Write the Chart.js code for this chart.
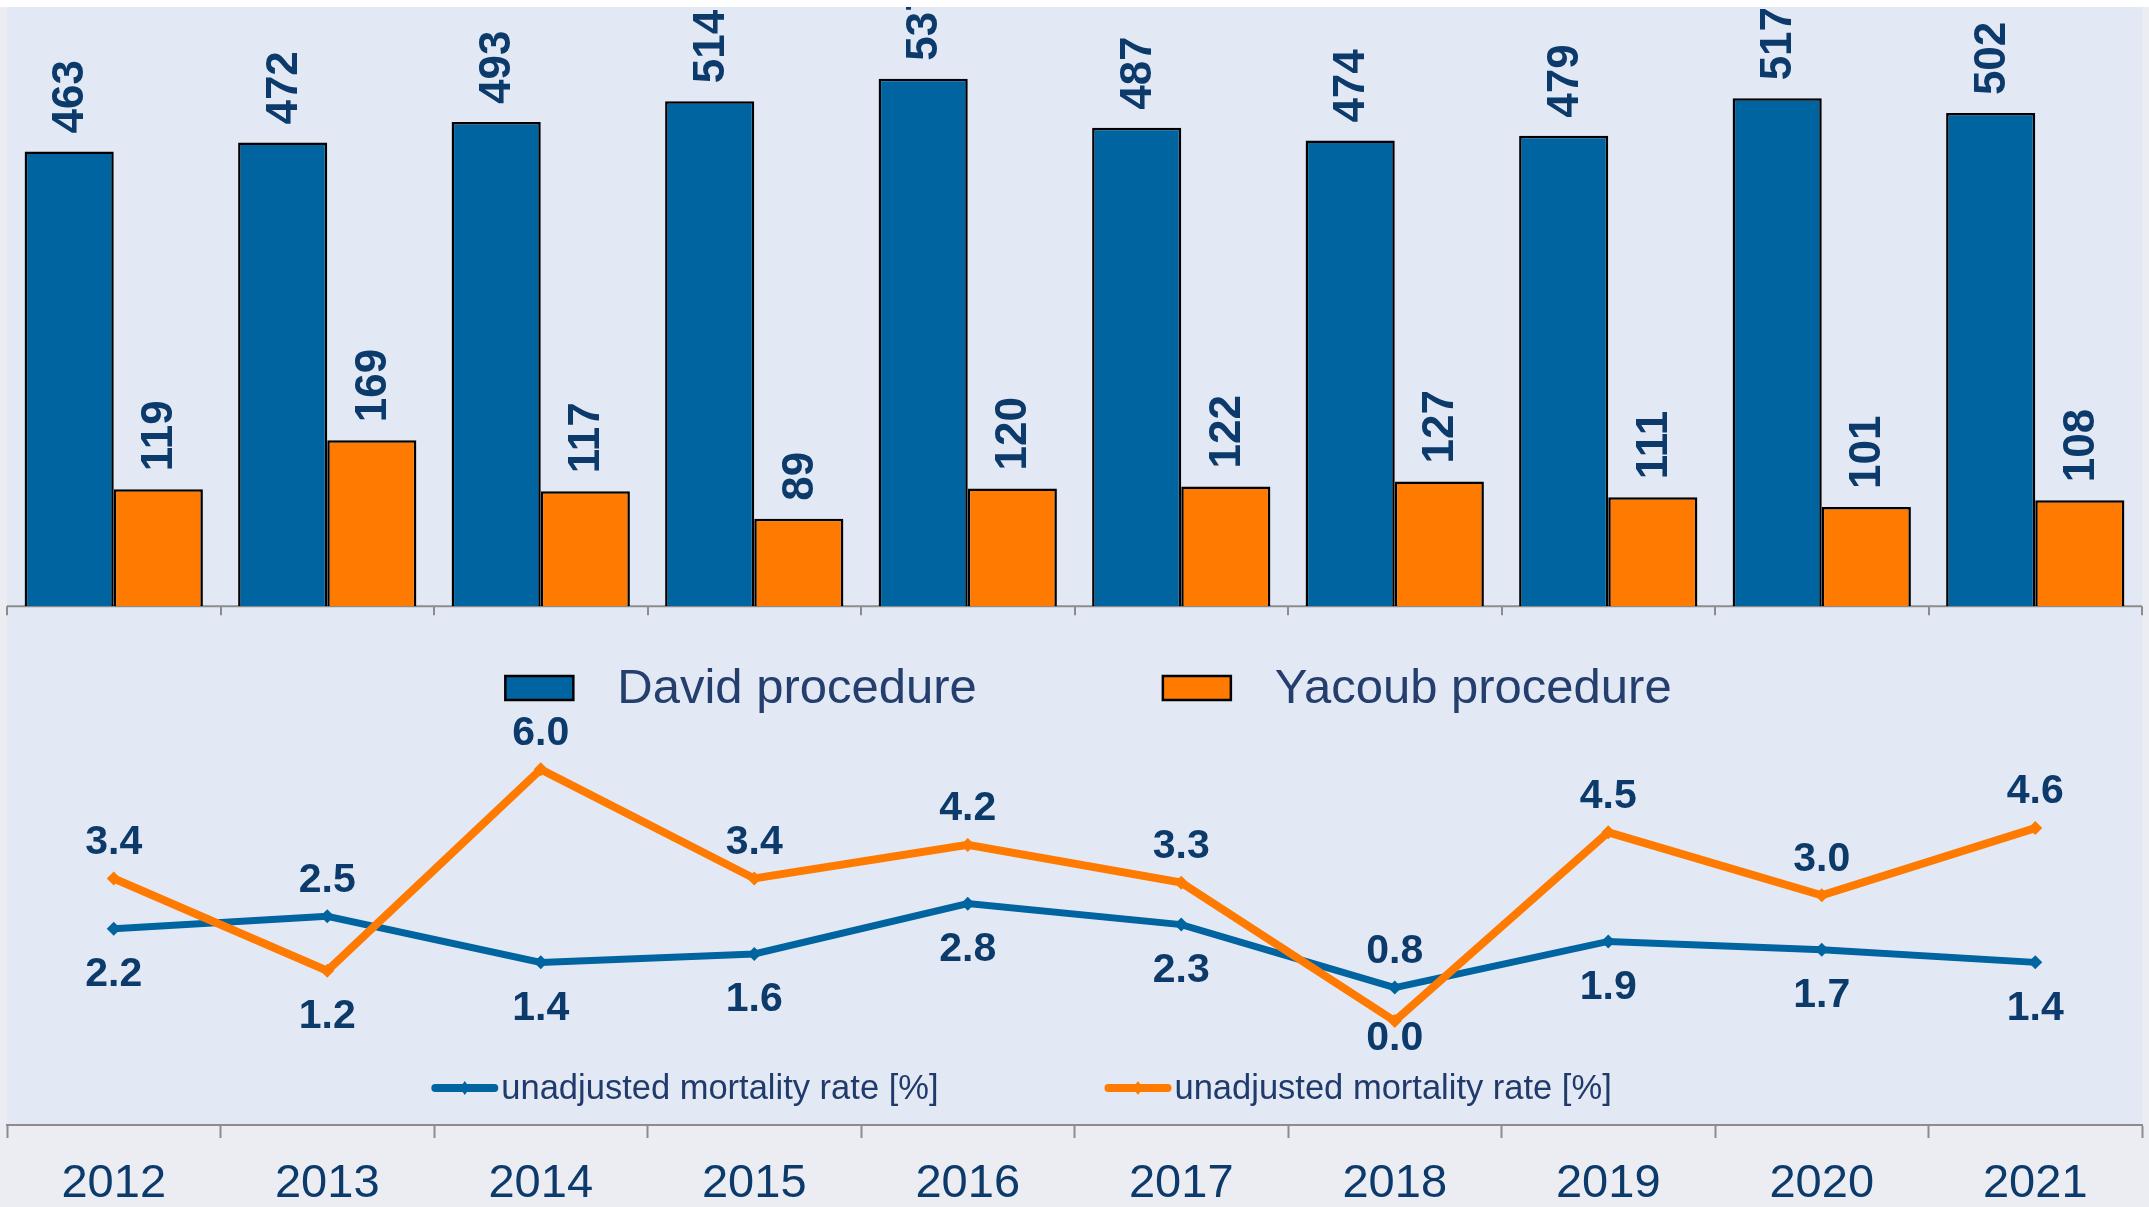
<!DOCTYPE html>
<html>
<head>
<meta charset="utf-8">
<title>David vs Yacoub procedure</title>
<script src="https://cdn.jsdelivr.net/npm/chart.js@4.4.0/dist/chart.umd.min.js"></script>
<style>
  html, body { margin: 0; padding: 0; background: #ECEDF3; }
  #wrap { width: 2149px; height: 1207px; }
</style>
</head>
<body>
<div id="wrap"><canvas id="chart" width="2149" height="1207"></canvas></div>
<script>
/* ================================
   Data
================================ */
const years = ['2012', '2013', '2014', '2015', '2016', '2017', '2018', '2019', '2020', '2021'];
const davidCases = [463, 472, 493, 514, 537, 487, 474, 479, 517, 502];
const yacoubCases = [119, 169, 117, 89, 120, 122, 127, 111, 101, 108];
const davidMortality = [2.2, 2.5, 1.4, 1.6, 2.8, 2.3, 0.8, 1.9, 1.7, 1.4];
const yacoubMortality = [3.4, 1.2, 6.0, 3.4, 4.2, 3.3, 0.0, 4.5, 3.0, 4.6];
const barNames = ['David procedure', 'Yacoub procedure'];
const lineName = 'unadjusted mortality rate [%]';

/* ================================
   Styling
================================ */
const FONT = '"Liberation Sans", Arial, sans-serif';
const NAVY = '#0B3A6B';
const LEGEND_TEXT = '#243F6E';
const BLUE = '#0064A0';
const ORANGE = '#FF7A00';
const AXIS_GREY = '#8C8C8C';

// paints the panel backgrounds and the baseline under the bars
const backdrop = {
  id: 'backdrop',
  beforeDraw(chart) {
    const { ctx, chartArea: a, width, height } = chart;
    ctx.save();
    ctx.fillStyle = '#ECEDF3';
    ctx.fillRect(0, 0, width, height);
    ctx.fillStyle = '#FFFFFF';
    ctx.fillRect(0, 0, width, a.top);
    ctx.fillStyle = '#E3E9F4';
    ctx.fillRect(a.left, a.top, a.right - a.left, a.bottom - a.top);

    const y0 = chart.scales.y.getPixelForValue(0);
    const step = (a.right - a.left) / years.length;
    ctx.strokeStyle = AXIS_GREY;
    ctx.lineWidth = 2;
    ctx.beginPath();
    ctx.moveTo(a.left, y0);
    ctx.lineTo(a.right, y0);
    for (let i = 0; i <= years.length; i++) {
      const px = Math.round(a.left + i * step);
      ctx.moveTo(px, y0);
      ctx.lineTo(px, y0 + 9);
    }
    ctx.stroke();
    ctx.restore();
  }
};

// numbers above bars (rotated) and next to line points
const valueLabels = {
  id: 'valueLabels',
  afterDatasetsDraw(chart) {
    const { ctx, chartArea: a } = chart;
    ctx.save();
    ctx.beginPath();
    ctx.rect(a.left, a.top, a.right - a.left, a.bottom - a.top);
    ctx.clip();
    ctx.fillStyle = NAVY;

    // bars
    ctx.font = 'bold 44px ' + FONT;
    ctx.textAlign = 'left';
    ctx.textBaseline = 'middle';
    [0, 1].forEach(di => {
      const meta = chart.getDatasetMeta(di);
      meta.data.forEach((bar, i) => {
        ctx.save();
        ctx.translate(bar.x, bar.y - 18);
        ctx.rotate(-Math.PI / 2);
        ctx.fillText(String(chart.data.datasets[di].data[i]), 0, 2);
        ctx.restore();
      });
    });

    // lines: higher value above its point, lower value below
    ctx.font = 'bold 41px ' + FONT;
    ctx.textAlign = 'center';
    const mDavid = chart.getDatasetMeta(2);
    const mYacoub = chart.getDatasetMeta(3);
    const lowLimit = a.bottom - 86;
    years.forEach((_, i) => {
      const pd = mDavid.data[i], py = mYacoub.data[i];
      const davidHigher = davidMortality[i] > yacoubMortality[i];
      const hi = davidHigher ? pd : py, lo = davidHigher ? py : pd;
      const hiVal = davidHigher ? davidMortality[i] : yacoubMortality[i];
      const loVal = davidHigher ? yacoubMortality[i] : davidMortality[i];
      ctx.fillText(hiVal.toFixed(1), hi.x, hi.y - 36);
      ctx.fillText(loVal.toFixed(1), lo.x, Math.min(lo.y + 46, lowLimit));
    });
    ctx.restore();
  }
};

// two legends: bar legend in the middle, line legend at the bottom
const legends = {
  id: 'legends',
  afterDraw(chart) {
    const { ctx, chartArea: a } = chart;
    const mid = (a.left + a.right) / 2;
    ctx.save();
    ctx.textAlign = 'left';
    ctx.textBaseline = 'alphabetic';
    ctx.fillStyle = LEGEND_TEXT;

    // bar legend
    ctx.font = '49px ' + FONT;
    const barColors = [BLUE, ORANGE];
    const boxW = 68, boxH = 24, textGap = 44, itemGap = 186;
    const w0 = ctx.measureText(barNames[0]).width;
    const w1 = ctx.measureText(barNames[1]).width;
    const total = boxW * 2 + textGap * 2 + w0 + w1 + itemGap;
    let x = mid + 14 - total / 2;
    const base = 703;
    [w0, w1].forEach((w, i) => {
      ctx.fillStyle = barColors[i];
      ctx.fillRect(x, base - 27, boxW, boxH);
      ctx.strokeStyle = '#000';
      ctx.lineWidth = 2.5;
      ctx.strokeRect(x, base - 27, boxW, boxH);
      ctx.fillStyle = LEGEND_TEXT;
      ctx.fillText(barNames[i], x + boxW + textGap, base);
      x += boxW + textGap + w + itemGap;
    });

    // line legend
    ctx.font = '34.5px ' + FONT;
    const lineColors = [BLUE, ORANGE];
    const sampleW = 67, gap = 3, lineItemGap = 166;
    const lw = ctx.measureText(lineName).width;
    const lineTotal = (sampleW + gap + lw) * 2 + lineItemGap;
    x = mid - 53 - lineTotal / 2;
    const ly = 1088;
    lineColors.forEach(c => {
      ctx.strokeStyle = c;
      ctx.lineWidth = 8;
      ctx.lineCap = 'round';
      ctx.beginPath();
      ctx.moveTo(x + 4, ly);
      ctx.lineTo(x + sampleW - 4, ly);
      ctx.stroke();
      ctx.fillStyle = c;
      const cx = x + sampleW / 2;
      ctx.beginPath();
      ctx.moveTo(cx, ly - 7);
      ctx.lineTo(cx + 5, ly);
      ctx.lineTo(cx, ly + 7);
      ctx.lineTo(cx - 5, ly);
      ctx.closePath();
      ctx.fill();
      ctx.fillStyle = '#1F3A6B';
      ctx.fillText(lineName, x + sampleW + gap, 1099);
      x += sampleW + gap + lw + lineItemGap;
    });
    ctx.restore();
  }
};

/* ================================
   Chart
================================ */
function initChart() {
  const ctx = document.getElementById('chart').getContext('2d');
  new Chart(ctx, {
    type: 'bar',
    data: {
      labels: years,
      datasets: [
        { label: barNames[0], data: davidCases, backgroundColor: BLUE, borderColor: '#000', borderWidth: 2.5, yAxisID: 'y', order: 2 },
        { label: barNames[1], data: yacoubCases, backgroundColor: ORANGE, borderColor: '#000', borderWidth: 2.5, yAxisID: 'y', order: 2 },
        {
          type: 'line', label: lineName, data: davidMortality, yAxisID: 'y2', order: 1,
          borderColor: BLUE, borderWidth: 7, tension: 0,
          pointStyle: 'rectRot', pointRadius: 7, pointBackgroundColor: BLUE, pointBorderWidth: 0
        },
        {
          type: 'line', label: lineName, data: yacoubMortality, yAxisID: 'y2', order: 0,
          borderColor: ORANGE, borderWidth: 8, tension: 0,
          pointStyle: 'rectRot', pointRadius: 7, pointBackgroundColor: ORANGE, pointBorderWidth: 0
        }
      ]
    },
    options: {
      responsive: false,
      animation: false,
      devicePixelRatio: 1,
      layout: { padding: { top: 6, left: 5, right: 1, bottom: 0 } },
      datasets: { bar: { categoryPercentage: 0.835, barPercentage: 1 } },
      plugins: { legend: { display: false }, tooltip: { enabled: false } },
      scales: {
        x: {
          offset: true,
          grid: { display: true, offset: true, drawOnChartArea: false, drawTicks: true, tickLength: 13, tickWidth: 2, tickColor: AXIS_GREY },
          border: { display: true, color: AXIS_GREY, width: 2 },
          ticks: { color: NAVY, font: { family: FONT, size: 47 }, padding: 18, maxRotation: 0, autoSkip: false },
          afterFit(scale) { scale.height = 82; }
        },
        y: { display: false, min: -528, max: 610 },
        y2: { display: false, min: -2.476, max: 24.17 }
      }
    },
    plugins: [backdrop, valueLabels, legends]
  });
}

window.onload = initChart;
</script>
</body>
</html>
